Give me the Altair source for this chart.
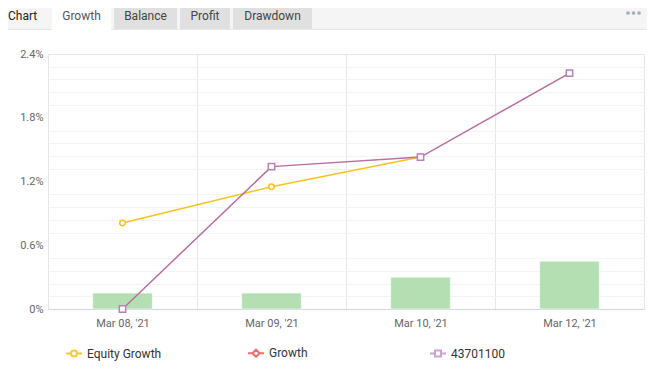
import altair as alt
import pandas as pd

# ---- data ----
dates = ["Mar 08, '21", "Mar 09, '21", "Mar 10, '21", "Mar 12, '21"]
equity_growth = [0.81, 1.15, 1.43, None]
account_growth = [0.0, 1.34, 1.43, 2.22]
daily_bars = [0.15, 0.15, 0.30, 0.45]
series_names = ["Equity Growth", "Growth", "43701100"]
legend_colors = ["#f5c000", "#e84a4a", "#c08cc6"]
y_major = [0, 0.6, 1.2, 1.8, 2.4]
y_minor = [0.12, 0.24, 0.36, 0.48, 0.72, 0.84, 0.96, 1.08,
           1.32, 1.44, 1.56, 1.68, 1.92, 2.04, 2.16, 2.28]
tabs = ["Growth", "Balance", "Profit", "Drawdown"]

lines_df = pd.DataFrame({
    "date": dates * 2,
    "series": ["Equity Growth"] * len(dates) + ["43701100"] * len(dates),
    "value": equity_growth + account_growth,
}).dropna()
bars_df = pd.DataFrame({"date": dates, "value": daily_bars})

FONT = "Roboto"
EQ_LINE = "#f7c31c"
ACC_LINE = "#ba6f9c"
ACC_MARK = "#b882b8"

# legend symbols: line + marker glyphs
legend_shapes = [
    "M-1,0H-0.375M0.375,0H1M-0.375,0A0.375,0.375 0 1,1 0.375,0A0.375,0.375 0 1,1 -0.375,0Z",
    "M-1,0H-0.44M0.44,0H1M0,-0.44L0.44,0L0,0.44L-0.44,0Z",
    "M-1,0H-0.375M0.375,0H1M-0.375,-0.375H0.375V0.375H-0.375Z",
]

x_enc = alt.X(
    "date:N", sort=dates, title=None,
    scale=alt.Scale(paddingInner=0, paddingOuter=0),
    axis=alt.Axis(tickBand="extent", grid=True, gridColor="#e6e6e6", ticks=False,
                  domainColor="#ccd6eb", labelColor="#666", labelFontSize=11,
                  labelPadding=8, labelAngle=0),
)
x_plain = alt.X("date:N", sort=dates)
y_scale = alt.Scale(domain=[0, 2.4], nice=False)

legend = alt.Legend(
    title=None, orient="none", legendX=17, legendY=290, direction="horizontal",
    columns=3, gridAlign="all", columnPadding=82, symbolSize=256,
    symbolStrokeWidth=2, labelFontSize=12, labelColor="#333", labelOffset=4,
    symbolOpacity=0.8, symbolFillColor="#ffffff",
)

bars = alt.Chart(bars_df).mark_bar(
    width=alt.RelativeBandSize(0.4), color="#b3dfb3", stroke="#ffffff",
    strokeWidth=1, strokeOpacity=0.6
).encode(
    x=x_enc,
    y=alt.Y("value:Q", scale=y_scale, title=None,
            axis=alt.Axis(values=y_minor, grid=True, gridColor="#f3f3f3", labels=False,
                          ticks=False, domain=False, orient="left")),
)

line_eq = alt.Chart(lines_df).transform_filter(
    alt.datum.series == "Equity Growth"
).mark_line(strokeWidth=1.5, color=EQ_LINE).encode(
    x=x_plain,
    y=alt.Y("value:Q", scale=y_scale, title=None,
            axis=alt.Axis(values=y_major, gridColor="#e6e6e6", ticks=False, domain=False,
                          labelExpr="datum.value + '%'", labelPadding=5, labelColor="#666",
                          labelFontSize=11, orient="left")),
)
line_acc = alt.Chart(lines_df).transform_filter(
    alt.datum.series == "43701100"
).mark_line(strokeWidth=1.5, color=ACC_LINE).encode(
    x=x_plain,
    y=alt.Y("value:Q", scale=y_scale, axis=None),
)

# empty layer that only feeds the legend (colour + marker shape)
legend_layer = alt.Chart(lines_df).transform_filter("false").mark_point(
    filled=False, strokeWidth=2
).encode(
    x=x_plain,
    y=alt.Y("value:Q", scale=y_scale, axis=None),
    color=alt.Color("series:N", scale=alt.Scale(domain=series_names, range=legend_colors),
                    legend=legend),
    shape=alt.Shape("series:N", scale=alt.Scale(domain=series_names, range=legend_shapes),
                    legend=legend),
)

pts_eq = alt.Chart(lines_df).transform_filter(
    alt.datum.series == "Equity Growth"
).mark_point(shape="circle", filled=False, fill="#ffffff", fillOpacity=1, color=EQ_LINE,
             size=30, strokeWidth=1.5, opacity=1).encode(
    x=x_plain,
    y=alt.Y("value:Q", scale=y_scale, axis=None),
)
pts_acc = alt.Chart(lines_df).transform_filter(
    alt.datum.series == "43701100"
).mark_point(shape="square", filled=False, fill="#ffffff", fillOpacity=1, color=ACC_MARK,
             size=40, strokeWidth=1.5, opacity=1).encode(
    x=x_plain,
    y=alt.Y("value:Q", scale=y_scale, axis=None),
)

# ---- header (tab strip) decoration ----
one = alt.Data(values=[{"k": 1}])
deco = []
deco.append(alt.Chart(one).mark_rect(color="#f5f5f5").encode(
    x=alt.value(-40), x2=alt.value(599), y=alt.value(-46), y2=alt.value(-25)))
deco.append(alt.Chart(one).mark_rule(color="#e8e8e8", strokeWidth=1).encode(
    x=alt.value(-40), x2=alt.value(599), y=alt.value(-24.5)))
tab_geom = [(4, 63), (66, 129), (132, 182), (185, 264)]
for i, (name, (x0, x1)) in enumerate(zip(tabs, tab_geom)):
    fill = "#ffffff" if i == 0 else "#e0e0e0"
    y2 = -24 if i == 0 else -25
    deco.append(alt.Chart(one).mark_rect(color=fill).encode(
        x=alt.value(x0), x2=alt.value(x1), y=alt.value(-46), y2=alt.value(y2)))
    deco.append(alt.Chart(one).mark_text(
        text=name, font=FONT, fontSize=12, color="#555" if i == 0 else "#444",
        align="center", baseline="middle").encode(
        x=alt.value((x0 + x1) / 2), y=alt.value(-38)))
deco.append(alt.Chart(one).mark_text(
    text="Chart", font=FONT, fontSize=12, color="#222", align="left",
    baseline="middle").encode(x=alt.value(-40), y=alt.value(-38)))
for dx in (580, 585.5, 591):
    deco.append(alt.Chart(one).mark_circle(color="#a8aeb8", size=14, opacity=1).encode(
        x=alt.value(dx), y=alt.value(-41)))

chart = alt.layer(*deco, bars, line_eq, line_acc, legend_layer, pts_eq, pts_acc).resolve_axis(
    y="independent"
).properties(
    width=596, height=255,
    padding={"left": 40, "top": 46, "right": 3, "bottom": 65},
    autosize=alt.AutoSizeParams(type="none"),
).configure(
    font=FONT, background="#ffffff"
).configure_view(stroke="#e6e6e6")

chart.save("out.html", embed_options={"renderer": "svg", "actions": False})
